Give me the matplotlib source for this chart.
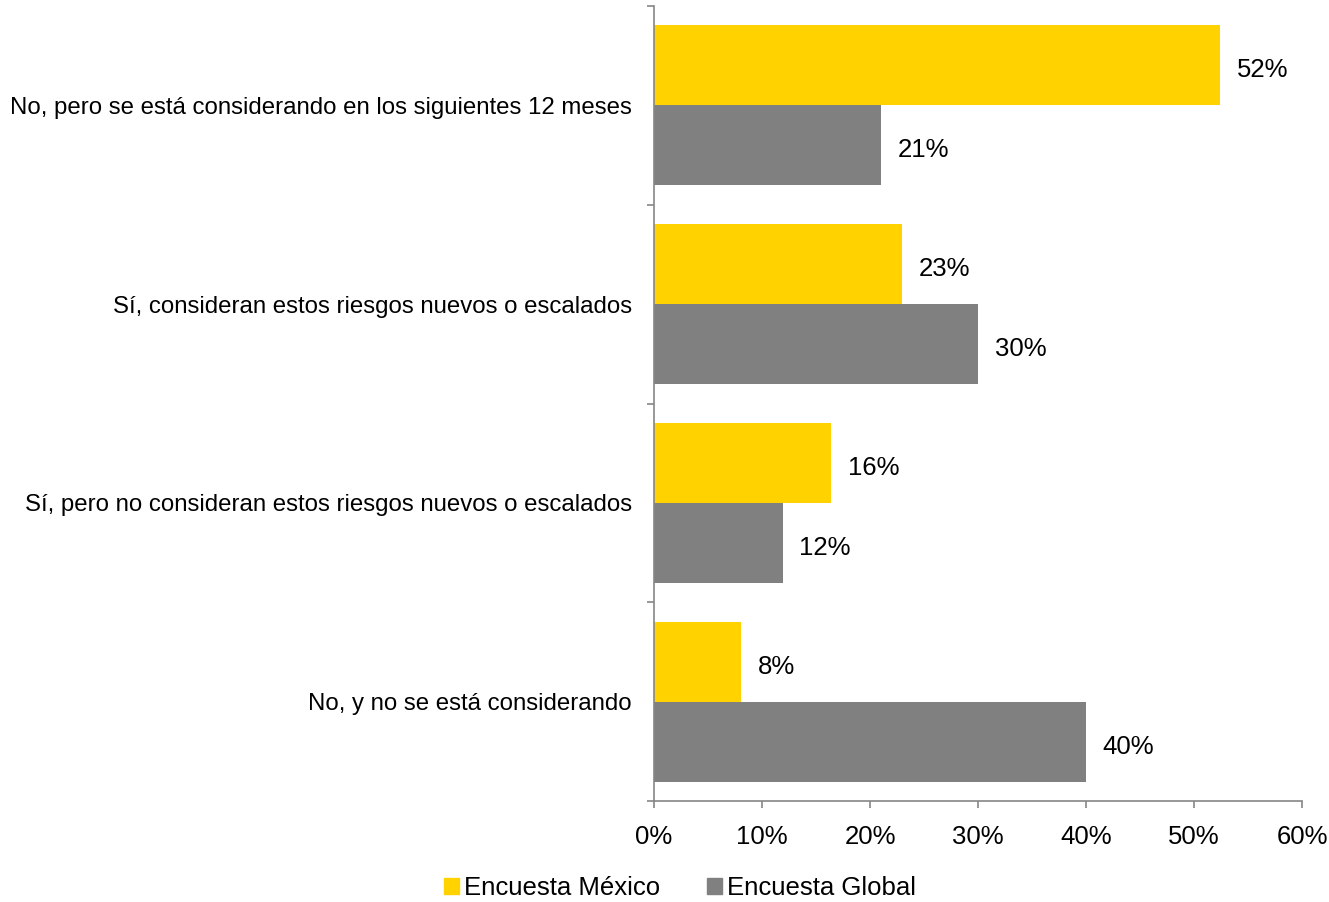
import matplotlib
matplotlib.use("Agg")
import matplotlib.pyplot as plt
from matplotlib.patches import Patch

categories = [
    "No, pero se está considerando en los siguientes 12 meses",
    "Sí, consideran estos riesgos nuevos o escalados",
    "Sí, pero no consideran estos riesgos nuevos o escalados",
    "No, y no se está considerando",
]
mexico = [52.4, 23.0, 16.4, 8.1]
global_ = [21.0, 30.0, 11.9, 40.0]
series_names = ["Encuesta México", "Encuesta Global"]
xticks = [0, 10, 20, 30, 40, 50, 60]

YELLOW = "#FFD200"
GRAY = "#808080"
AXIS = "#868686"

plt.rcParams["font.family"] = ["Liberation Sans", "DejaVu Sans"]

fig = plt.figure(figsize=(13.29, 9.02), dpi=100)
ax = fig.add_axes([654 / 1329, 1 - 801 / 902, (1302 - 654) / 1329, (801 - 6) / 902])

bh = 0.402
pos = list(range(len(categories)))
ax.barh([p - bh / 2 for p in pos], mexico, height=bh, color=YELLOW)
ax.barh([p + bh / 2 for p in pos], global_, height=bh, color=GRAY)

for p, m, g in zip(pos, mexico, global_):
    ax.text(m + 1.55, p - bh / 2 + 0.025, f"{m:.0f}%", va="center", ha="left", fontsize=18.5)
    ax.text(g + 1.55, p + bh / 2 + 0.025, f"{g:.0f}%", va="center", ha="left", fontsize=18.5)

ax.set_xlim(0, 60)
ax.set_ylim(len(categories) - 0.5, -0.5)

ax.set_xticks(xticks)
ax.set_xticklabels([f"{t}%" for t in xticks], fontsize=18.5)
ax.set_yticks([p - 0.5 for p in range(len(categories) + 1)])
ax.set_yticklabels([])
ax.set_yticks(pos, minor=True)
ax.set_yticklabels(categories, minor=True, fontsize=17.3)
ax.tick_params(axis="y", which="minor", length=0, pad=16)
ax.tick_params(axis="y", which="major", length=5, color=AXIS, width=1.2)
ax.tick_params(axis="x", length=5, color=AXIS, width=1.2, pad=12)

for side in ("top", "right"):
    ax.spines[side].set_visible(False)
for side in ("left", "bottom"):
    ax.spines[side].set_color(AXIS)
    ax.spines[side].set_linewidth(1.2)

handles = [Patch(color=YELLOW), Patch(color=GRAY)]
fig.legend(handles, series_names, loc="center", bbox_to_anchor=(680 / 1329, 1 - 888 / 902),
           ncol=2, frameon=False, fontsize=18.5, handlelength=0.6, handleheight=0.6,
           handletextpad=0.2, columnspacing=1.8)

fig.savefig("out.png", dpi=100)
